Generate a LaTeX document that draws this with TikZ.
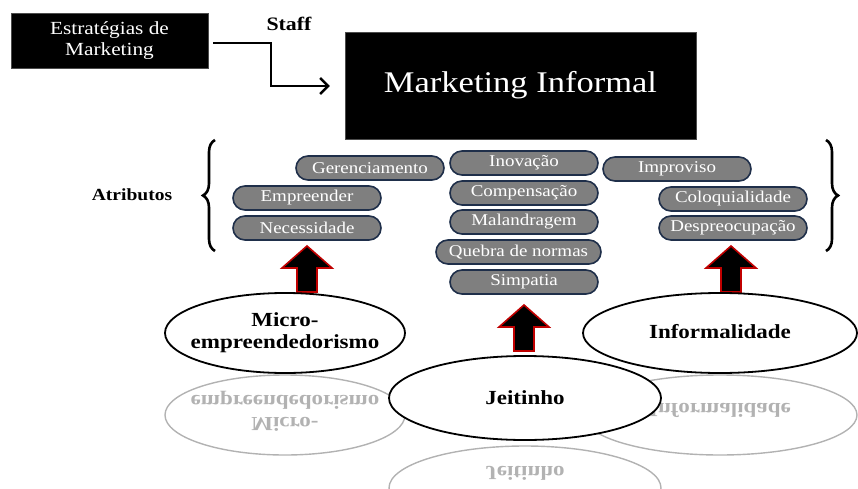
\documentclass[tikz,border=0pt]{standalone}
\usepackage{fontspec}
\setmainfont{Liberation Serif}
\newfontfamily\widefont[FakeStretch=1.15]{Liberation Serif}
\usetikzlibrary{shapes.misc,shapes.geometric,arrows.meta,decorations.pathreplacing}
\definecolor{pillgray}{HTML}{7F7F7F}
\definecolor{pillnavy}{HTML}{1F2F4A}
\definecolor{arrred}{HTML}{C00000}
\tikzset{
  blackbox/.style={draw=black!70, fill=black, text=white, inner sep=0pt},
  pill/.style={rounded rectangle, draw=pillnavy, line width=1.6pt, fill=pillgray, text=white,
    minimum width=148pt, minimum height=24pt, inner sep=0pt, font=\widefont\fontsize{16.5}{18}\selectfont},
  bigell/.style={ellipse, draw=black, line width=1.8pt, fill=white, inner sep=0pt},
  elltext/.style={font=\widefont\bfseries\fontsize{20}{22}\selectfont, align=center, inner sep=0pt},
  refell/.style={ellipse, draw=black!30, line width=1.4pt, inner sep=0pt},
  reftext/.style={text=black!30, font=\widefont\bfseries\fontsize{20}{22}\selectfont, align=center, yscale=-1, inner sep=0pt},
  bracestyle/.style={decorate, decoration={brace, amplitude=12pt}, line width=2.6pt},
  uparr/.pic={\draw[fill=black, draw=arrred, line width=1.6pt, line join=miter]
    (0,0) -- (25,22) -- (10,22) -- (10,46) -- (-10,46) -- (-10,22) -- (-25,22) -- cycle;}
}
\begin{document}
\begin{tikzpicture}[x=1pt,y=-1pt]
\useasboundingbox (0,0) rectangle (858,489);
% reflections
\node[refell, minimum width=240pt, minimum height=80pt] (microR) at (285,415) {};
\node[reftext] (microRT) at (285,411) {Micro-\\empreendedorismo};
\node[refell, minimum width=274pt, minimum height=80pt] (infoR) at (720,415) {};
\node[reftext] (infoRT) at (720,410) {Informalidade};
\node[refell, minimum width=272pt, minimum height=84pt] (jeitR) at (525,488) {};
\node[reftext] (jeitRT) at (525,473) {Jeitinho};
% top boxes
\node[blackbox, minimum width=197pt, minimum height=55pt, align=center,
  font=\widefont\fontsize{18.5}{21}\selectfont] (est) at (109.5,40.5) {Estratégias de\\Marketing};
\node[blackbox, minimum width=351pt, minimum height=107pt, font=\widefont\fontsize{30}{34}\selectfont] (mi) at (520.5,85.5) {Marketing Informal};
\node[font=\widefont\bfseries\fontsize{19}{20}\selectfont] (staff) at (289,24) {Staff};
\draw[line width=2.6pt, -{Straight Barb[length=8pt,width=16pt,line width=2.4pt]}, shorten <=5pt, shorten >=15pt]
  (est.east |- 0,43) -| (271,86) -- (mi.west |- 0,86);
% braces
\node[font=\widefont\bfseries\fontsize{17}{18}\selectfont] (atr) at (132,195) {Atributos};
\coordinate (lbB) at (215,251);
\coordinate (lbT) at (215,140);
\coordinate (rbT) at (826,140);
\coordinate (rbB) at (826,251);
\draw[bracestyle] (lbB) -- (lbT);
\draw[bracestyle] (rbT) -- (rbB);
% pills
\node[pill] (ger) at (370,168) {Gerenciamento};
\node[pill] (emp) at (307,198) {Empreender};
\node[pill] (nec) at (307,228) {Necessidade};
\node[pill] (ino) at (524,163) {Inovação};
\node[pill] (com) at (524,193) {Compensação};
\node[pill] (mal) at (524,222) {Malandragem};
\node[pill, minimum width=165pt] (que) at (518.5,252) {Quebra de normas};
\node[pill] (sim) at (524,282) {Simpatia};
\node[pill] (imp) at (677,169) {Improviso};
\node[pill] (col) at (733,199) {Coloquialidade};
\node[pill] (des) at (733,228) {Despreocupação};
% block arrows
\pic at (307,246) {uparr};
\pic at (524,305) {uparr};
\pic at (731,246) {uparr};
% main ellipses
\node[bigell, minimum width=240pt, minimum height=80pt] (micro) at (285,333) {};
\node[elltext] (microT) at (285,333) {Micro-\\empreendedorismo};
\node[bigell, minimum width=274pt, minimum height=80pt] (info) at (720,333) {};
\node[elltext] (infoT) at (720,332) {Informalidade};
\node[bigell, minimum width=272pt, minimum height=84pt] (jeit) at (525,398) {};
\node[elltext] (jeitT) at (525,398) {Jeitinho};
\end{tikzpicture}
\end{document}
